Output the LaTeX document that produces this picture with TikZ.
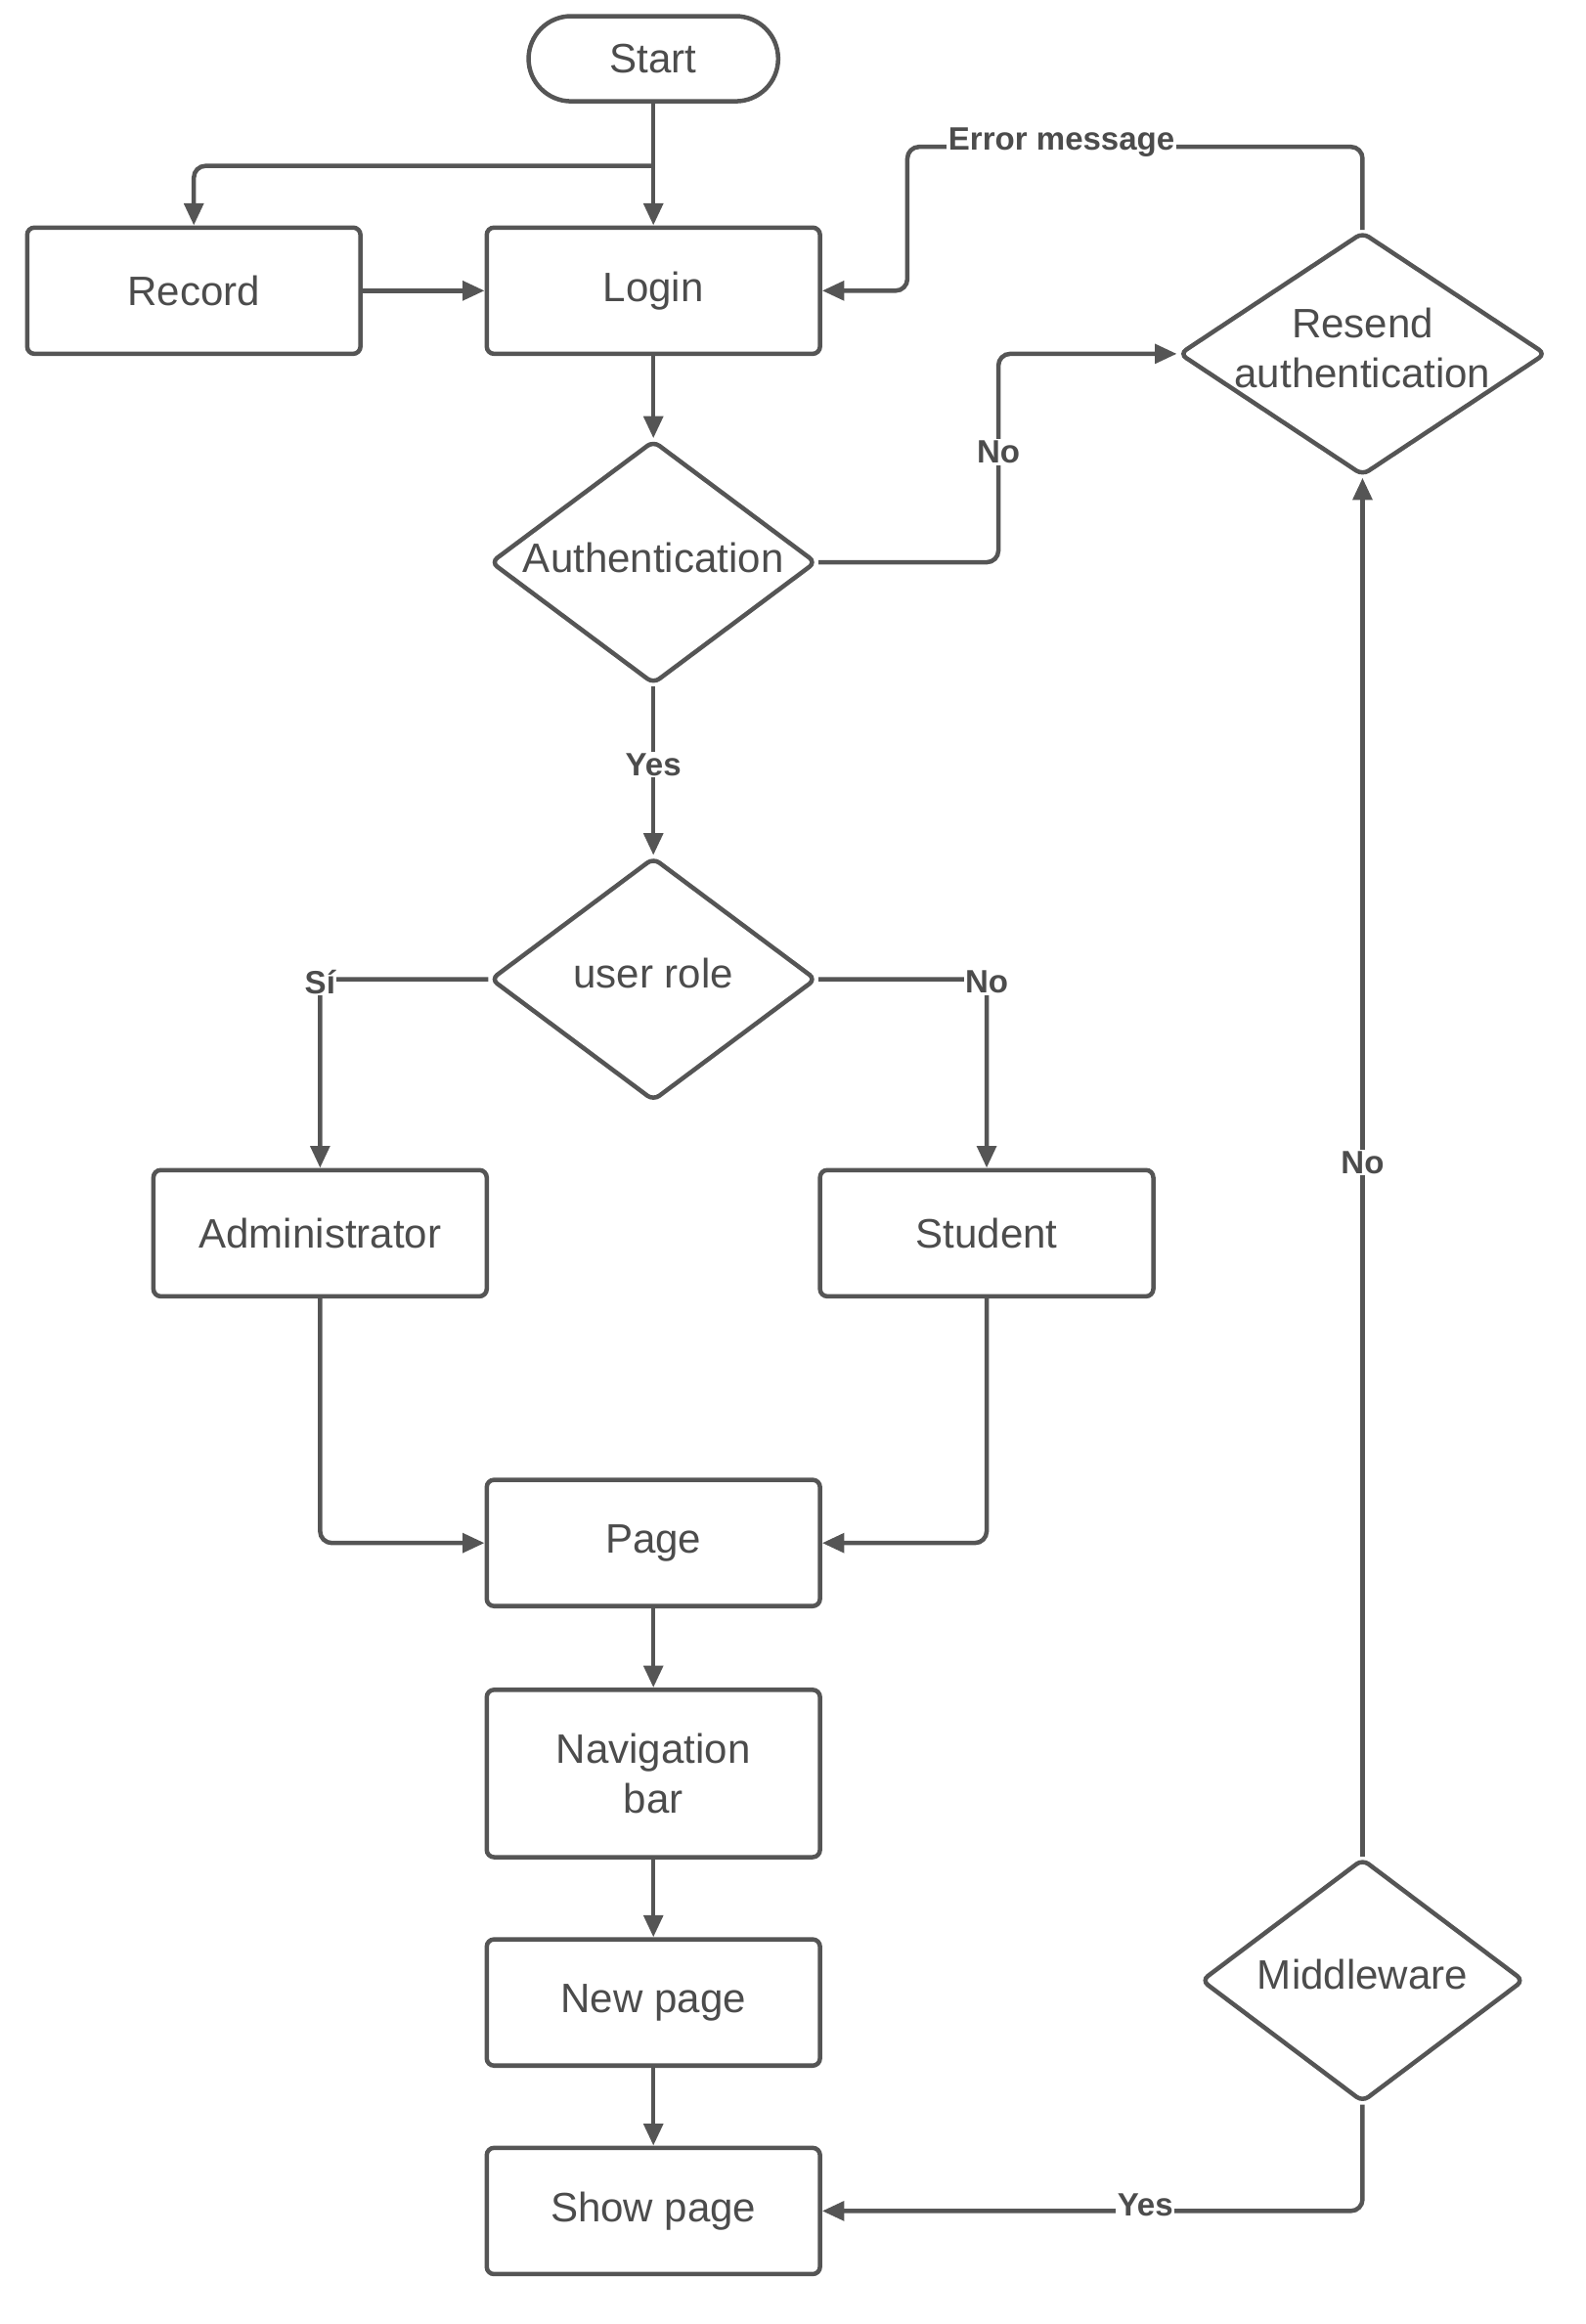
\documentclass[tikz,border=0pt]{standalone}
\usepackage{fontspec}
\setmainfont{Liberation Sans}
\usetikzlibrary{shapes.geometric,arrows.meta}
\definecolor{ln}{HTML}{555555}
\begin{document}
\begin{tikzpicture}[x=1pt,y=-1pt,
  every node/.style={text=ln!90!black},
  box/.style={draw=ln,line width=3pt,rounded corners=5pt,minimum width=227pt,minimum height=86pt,font=\fontsize{28}{34}\selectfont,align=center},
  dia/.style={draw=ln,line width=3pt,diamond,rounded corners=5pt,inner sep=0pt},
  dtext/.style={font=\fontsize{28}{34}\selectfont,align=center},
  con/.style={draw=ln,line width=3pt,rounded corners=8pt,-{Triangle[length=15pt,width=13pt]}},
  lnk/.style={draw=ln,line width=3pt,rounded corners=8pt},
  lab/.style={fill=white,inner sep=1pt,font=\fontsize{22}{26}\selectfont\bfseries}]
\useasboundingbox (0,0) rectangle (1080,1583);
\node[box,rounded corners=29pt,minimum width=170pt,minimum height=58pt] (start) at (445,40) {Start};
\node[box] (record) at (132,198) {Record};
\node[box] (login) at (445,198) {Login};
\node[dia,minimum width=222pt,minimum height=166pt] (auth) at (445,383) {};
\node[dtext] at (445,380) {Authentication};
\node[dia,minimum width=250pt,minimum height=166pt] (resend) at (928,241) {};
\node[dtext] at (928,237) {Resend\\authentication};
\node[dia,minimum width=222pt,minimum height=166pt] (role) at (445,667) {};
\node[dtext] at (445,663) {user role};
\node[box] (admin) at (218,840) {Administrator};
\node[box] (student) at (672,840) {Student};
\node[box] (page) at (445,1051) {Page};
\node[box,minimum height=114pt] (nav) at (445,1208) {Navigation\\bar};
\node[box] (new) at (445,1364) {New page};
\node[box] (show) at (445,1506) {Show page};
\node[dia,minimum width=220pt,minimum height=166pt] (mid) at (928,1349) {};
\node[dtext] at (928,1345) {Middleware};
\coordinate (br) at (445,113);
\draw[con] (start) -- (login);
\draw[con] (br) -| (record.north);
\draw[con] (record) -- (login);
\draw[con] (login) -- (auth);
\draw[con] (auth.east) -| (680,312) |- (resend.west);
\node[lab] at (680,308) {No};
\draw[con] (resend.north) |- (618,100) |- (login.east);
\node[lab] at (723,97) {Error message};
\draw[con] (auth.south) -- (role.north);
\node[lab] at (445,521) {Yes};
\draw[con] (role.west) -| (admin.north);
\node[lab] at (218,669) {Sí};
\draw[con] (role.east) -| (student.north);
\node[lab] at (672,669) {No};
\draw[con] (admin.south) |- (page.west);
\draw[con] (student.south) |- (page.east);
\draw[con] (page) -- (nav);
\draw[con] (nav) -- (new);
\draw[con] (new) -- (show);
\draw[con] (mid.south) |- (show.east);
\node[lab] at (780,1502) {Yes};
\draw[con] (mid.north) -- (resend.south);
\node[lab] at (928,792) {No};
\end{tikzpicture}
\end{document}
